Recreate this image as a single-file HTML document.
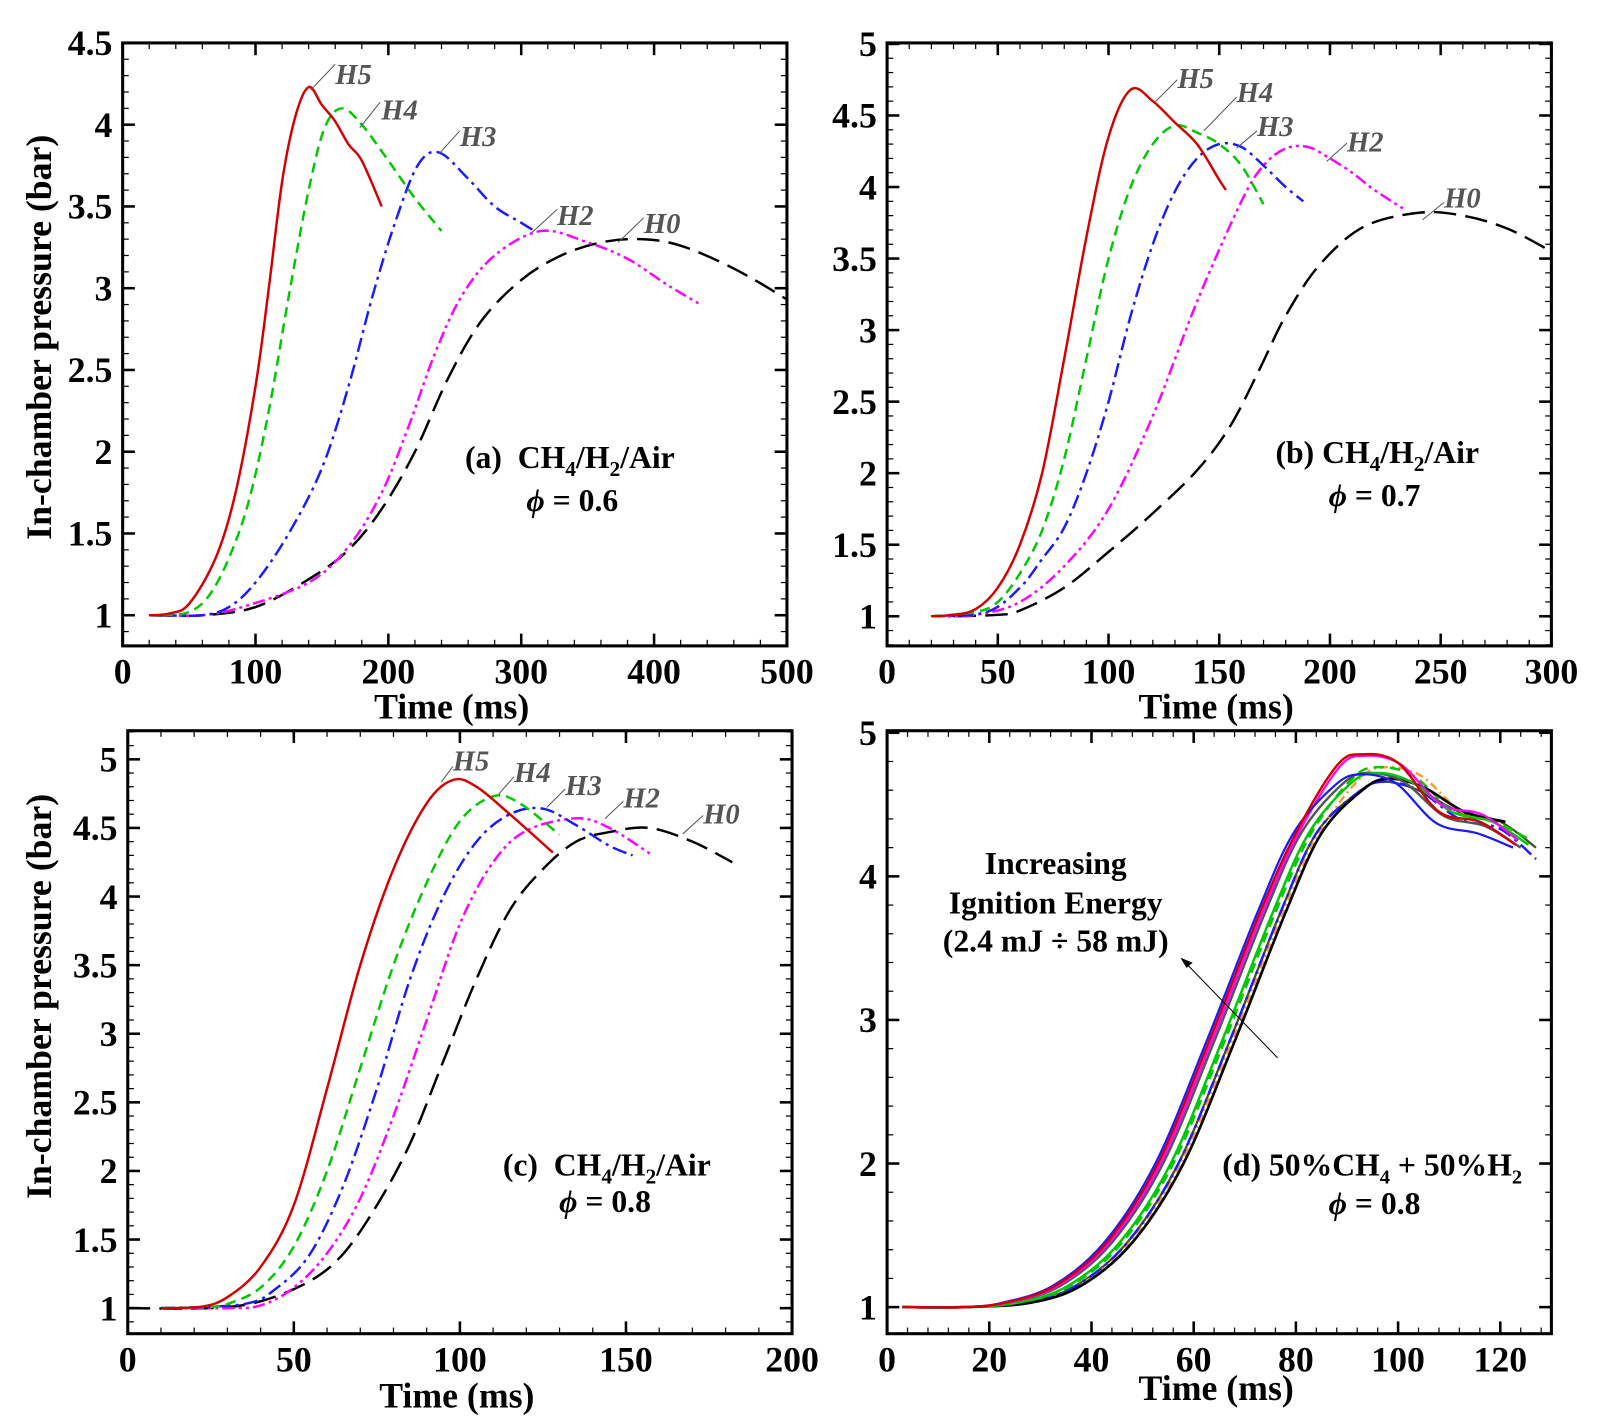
<!DOCTYPE html>
<html><head><meta charset="utf-8"><style>
html,body{margin:0;padding:0;background:#fff;}
svg{display:block;}
text{font-family:"Liberation Serif",serif;font-weight:bold;fill:#000;}
.tl{font-size:35px;}
.at{font-size:35px;}
.hl{font-size:28px;font-style:italic;fill:#555;}
.ann{font-size:31px;}
</style></head><body>
<svg id="s" width="1598" height="1427" viewBox="0 0 1563.6 1396.3" xmlns="http://www.w3.org/2000/svg">
<g id="g"></g>
<text class="at" transform="translate(50,330) rotate(-90)" text-anchor="middle">In-chamber pressure (bar)</text>
<text class="at" transform="translate(50,975) rotate(-90)" text-anchor="middle">In-chamber pressure (bar)</text>
<text class="at" x="442" y="703" text-anchor="middle">Time (ms)</text>
<text class="at" x="1190" y="703" text-anchor="middle">Time (ms)</text>
<text class="at" x="447" y="1377" text-anchor="middle">Time (ms)</text>
<text class="at" x="1190" y="1370" text-anchor="middle">Time (ms)</text>
<text class="ann" x="455" y="458">(a)&#160; CH<tspan font-size="21" dy="8">4</tspan><tspan dy="-8">/H</tspan><tspan font-size="21" dy="8">2</tspan><tspan dy="-8">/Air</tspan></text>
<text class="ann" x="560" y="500" text-anchor="middle"><tspan font-style="italic">ϕ</tspan> = 0.6</text>
<text class="ann" x="1248" y="453">(b) CH<tspan font-size="21" dy="8">4</tspan><tspan dy="-8">/H</tspan><tspan font-size="21" dy="8">2</tspan><tspan dy="-8">/Air</tspan></text>
<text class="ann" x="1345" y="495" text-anchor="middle"><tspan font-style="italic">ϕ</tspan> = 0.7</text>
<text class="ann" x="492" y="1150">(c)&#160; CH<tspan font-size="21" dy="8">4</tspan><tspan dy="-8">/H</tspan><tspan font-size="21" dy="8">2</tspan><tspan dy="-8">/Air</tspan></text>
<text class="ann" x="592" y="1186" text-anchor="middle"><tspan font-style="italic">ϕ</tspan> = 0.8</text>
<text class="ann" x="1196" y="1150" font-size="29">(d) 50%CH<tspan font-size="20" dy="8">4</tspan><tspan dy="-8"> + 50%H</tspan><tspan font-size="20" dy="8">2</tspan></text>
<text class="ann" x="1345" y="1188" text-anchor="middle"><tspan font-style="italic">ϕ</tspan> = 0.8</text>
<text class="ann" x="1033" y="855" text-anchor="middle" font-size="29">Increasing</text>
<text class="ann" x="1033" y="894" text-anchor="middle" font-size="29">Ignition Energy</text>
<text class="ann" x="1033" y="931" text-anchor="middle" font-size="29">(2.4 mJ ÷ 58 mJ)</text>
<line x1="1250" y1="1035" x2="1160" y2="942" stroke="#000" stroke-width="1"/>
<polygon points="1155,937 1167,942 1161,947" fill="#000"/>
<text class="hl" x="328" y="82">H5</text><text class="hl" x="373" y="117">H4</text><text class="hl" x="450" y="143">H3</text><text class="hl" x="545" y="220">H2</text><text class="hl" x="630" y="228">H0</text>
<text class="hl" x="1152" y="86">H5</text><text class="hl" x="1210" y="100">H4</text><text class="hl" x="1230" y="133">H3</text><text class="hl" x="1318" y="148">H2</text><text class="hl" x="1413" y="203">H0</text>
<text class="hl" x="443" y="754">H5</text><text class="hl" x="503" y="765">H4</text><text class="hl" x="553" y="778">H3</text><text class="hl" x="610" y="790">H2</text><text class="hl" x="688" y="806">H0</text>
<g stroke="#555" stroke-width="1">
<line x1="304" y1="88" x2="328" y2="63"/><line x1="352" y1="125" x2="372" y2="100"/><line x1="430" y1="150" x2="450" y2="128"/><line x1="520" y1="228" x2="545" y2="205"/><line x1="605" y1="237" x2="630" y2="213"/>
<line x1="1130" y1="100" x2="1152" y2="78"/><line x1="1178" y1="128" x2="1210" y2="95"/><line x1="1210" y1="145" x2="1230" y2="128"/><line x1="1298" y1="158" x2="1318" y2="140"/><line x1="1392" y1="215" x2="1413" y2="198"/>
<line x1="432" y1="765" x2="443" y2="750"/><line x1="488" y1="777" x2="503" y2="760"/><line x1="535" y1="790" x2="553" y2="772"/><line x1="592" y1="801" x2="610" y2="784"/><line x1="668" y1="816" x2="688" y2="798"/>
</g>
</svg>
<script>
var NS="http://www.w3.org/2000/svg",G=document.getElementById('g');
function el(n,a,p){var e=document.createElementNS(NS,n);for(var k in a)e.setAttribute(k,a[k]);(p||G).appendChild(e);return e;}
function txt(x,y,s,anc){var e=el('text',{x:x,y:y,'class':'tl','text-anchor':anc});e.textContent=s;}
function path(pts){var d='M'+pts[0][0].toFixed(1)+','+pts[0][1].toFixed(1);
 for(var i=0;i<pts.length-1;i++){var p0=pts[i-1]||pts[i],p1=pts[i],p2=pts[i+1],p3=pts[i+2]||p2;
 var c1=[p1[0]+(p2[0]-p0[0])/6,p1[1]+(p2[1]-p0[1])/6],c2=[p2[0]-(p3[0]-p1[0])/6,p2[1]-(p3[1]-p1[1])/6];
 d+=' C'+c1[0].toFixed(1)+','+c1[1].toFixed(1)+' '+c2[0].toFixed(1)+','+c2[1].toFixed(1)+' '+p2[0].toFixed(1)+','+p2[1].toFixed(1);}
 return d;}
function panel(P){
 var X=function(t){return P.x0+P.sx*t},Y=function(v){return P.y1-(v-1)*P.sy};
 var cp=el('clipPath',{id:P.id});el('rect',{x:P.L,y:P.T,width:P.R-P.L,height:P.B-P.T},cp);
 P.curves.forEach(function(c){var pts=c.d.map(function(q){return [X(q[0]),Y(q[1])]});
  var a={d:path(pts),fill:'none',stroke:c.c,'stroke-width':c.w||2.4,'clip-path':'url(#'+P.id+')'};if(c.da)a['stroke-dasharray']=c.da;el('path',a);});
 el('rect',{x:P.L,y:P.T,width:P.R-P.L,height:P.B-P.T,fill:'none',stroke:'#000','stroke-width':3});
 var t;
 for(t=0;t<=P.xmax+1e-6;t+=P.xmin){var x=X(t);if(x>P.R+0.5)break;var maj=Math.abs(t/P.xmaj-Math.round(t/P.xmaj))<1e-6;var l=maj?12:6;
  el('line',{x1:x,y1:P.B,x2:x,y2:P.B-l,stroke:'#000','stroke-width':maj?2.5:1.2});el('line',{x1:x,y1:P.T,x2:x,y2:P.T+l,stroke:'#000','stroke-width':maj?2.5:1.2});
  if(maj&&t<=P.xlab)txt(x,P.B+37,String(Math.round(t)),'middle');}
 for(var v=P.vmin;v<=P.vmax+1e-6;v+=P.ymin){var y=Y(v);if(y<P.T-0.5||y>P.B+0.5)continue;var maj=Math.abs(v/P.ymaj-Math.round(v/P.ymaj))<1e-6;var l=maj?12:6;
  el('line',{x1:P.L,y1:y,x2:P.L+l,y2:y,stroke:'#000','stroke-width':maj?2.5:1.2});el('line',{x1:P.R,y1:y,x2:P.R-l,y2:y,stroke:'#000','stroke-width':maj?2.5:1.2});
  if(maj)txt(P.L-10,y+12,String(Math.round(v*10)/10),'end');}
}
var RED='#d40000',GRN='#00c800',BLU='#1a1aff',MAG='#ff00ff',BLK='#000';
var DG='10,6',DB='14,5,3,5',DM='12,4,3,4,3,4',DK='22,9';
panel({id:'ca',L:120,R:770,T:42,B:632,x0:120,sx:1.3,y1:602,sy:160,xmax:500,xmin:20,xmaj:100,xlab:500,vmin:0.8,vmax:4.5,ymin:0.1,ymaj:0.5,curves:[
 {c:BLK,da:DK,d:[[20,1],[60,1],[100,1.05],[140,1.22],[170,1.4],[195,1.65],[220,2.0],[245,2.45],[270,2.8],[300,3.05],[330,3.2],[360,3.28],[390,3.3],[420,3.26],[460,3.12],[500,2.93],[520,2.8]]},
 {c:MAG,da:DM,d:[[30,1],[60,1],[90,1.05],[140,1.2],[170,1.42],[195,1.75],[215,2.15],[235,2.6],[255,2.95],[280,3.2],[315,3.35],[350,3.28],[380,3.18],[410,3.02],[435,2.9]]},
 {c:BLU,da:DB,d:[[30,1],[60,1],[80,1.05],[100,1.2],[125,1.5],[150,1.9],[170,2.4],[188,2.95],[205,3.4],[222,3.75],[238,3.83],[260,3.67],[280,3.5],[300,3.4],[310,3.35]]},
 {c:GRN,da:DG,d:[[30,1],[50,1.02],[65,1.12],[80,1.35],[95,1.7],[110,2.25],[125,2.95],[140,3.6],[152,3.98],[165,4.1],[180,4.0],[200,3.78],[220,3.55],[240,3.35]]},
 {c:RED,d:[[20,1],[35,1.01],[50,1.07],[70,1.35],[85,1.75],[100,2.4],[110,3.0],[120,3.65],[130,4.05],[140,4.23],[150,4.12],[160,4.02],[170,3.88],[180,3.78],[195,3.5]]}]});
panel({id:'cb',L:868,R:1518,T:42,B:632,x0:868,sx:2.1667,y1:603,sy:140,xmax:300,xmin:10,xmaj:50,xlab:300,vmin:0.8,vmax:5,ymin:0.1,ymaj:0.5,curves:[
 {c:BLK,da:DK,d:[[30,1],[50,1.01],[60,1.04],[80,1.2],[100,1.45],[120,1.72],[140,2.02],[155,2.33],[168,2.72],[180,3.1],[195,3.45],[215,3.72],[240,3.82],[260,3.8],[280,3.71],[300,3.55]]},
 {c:MAG,da:DM,d:[[20,1],[40,1.01],[60,1.1],[80,1.35],[100,1.75],[120,2.4],[140,3.2],[160,3.9],[170,4.15],[180,4.27],[190,4.28],[200,4.2],[210,4.1],[220,3.98],[233,3.85]]},
 {c:BLU,da:DB,d:[[20,1],[45,1.03],[60,1.2],[70,1.4],[80,1.62],[90,2],[100,2.5],[110,3.1],[120,3.6],[130,3.97],[140,4.2],[150,4.3],[160,4.28],[170,4.15],[180,4.0],[188,3.9]]},
 {c:GRN,da:DG,d:[[20,1],[40,1.03],[50,1.1],[60,1.3],[70,1.6],[80,2.1],[90,2.8],[100,3.5],[110,4.0],[120,4.3],[130,4.43],[140,4.38],[150,4.3],[160,4.15],[170,3.88]]},
 {c:RED,d:[[20,1],[30,1.01],[40,1.05],[50,1.2],[60,1.5],[70,2.0],[80,2.8],[90,3.65],[100,4.35],[110,4.68],[120,4.6],[130,4.45],[140,4.3],[150,4.05],[153,3.98]]}]});
panel({id:'cc',L:125,R:775,T:715,B:1305,x0:125,sx:3.25,y1:1280,sy:134.25,xmax:200,xmin:10,xmaj:50,xlab:200,vmin:0.8,vmax:5.2,ymin:0.1,ymaj:0.5,curves:[
 {c:BLK,da:DK,d:[[0,1],[25,1],[40,1.05],[55,1.2],[65,1.4],[75,1.75],[85,2.2],[95,2.8],[105,3.4],[115,3.9],[125,4.2],[135,4.4],[145,4.47],[157,4.5],[170,4.4],[182,4.25]]},
 {c:MAG,da:DM,d:[[10,1],[30,1],[40,1.02],[50,1.15],[60,1.4],[70,1.8],[80,2.4],[90,3.1],[100,3.8],[110,4.25],[120,4.48],[135,4.57],[145,4.5],[158,4.3]]},
 {c:BLU,da:DB,d:[[10,1],[35,1.03],[45,1.15],[55,1.4],[65,1.9],[75,2.6],[85,3.4],[95,4.0],[105,4.4],[115,4.6],[125,4.64],[135,4.52],[145,4.37],[152,4.3]]},
 {c:GRN,da:DG,d:[[10,1],[25,1.01],[30,1.03],[40,1.15],[50,1.45],[60,2.0],[70,2.75],[80,3.5],[90,4.1],[100,4.55],[110,4.73],[118,4.68],[130,4.45]]},
 {c:RED,d:[[10,1],[22,1.01],[30,1.08],[40,1.3],[50,1.75],[60,2.6],[70,3.5],[80,4.2],[90,4.68],[98,4.85],[105,4.8],[115,4.6],[128,4.32]]}]});
function dcur(s,pk,end,dip){var b=[[3,1],[15,1],[25,1.03],[35,1.15],[45,1.45],[55,2.0],[65,2.85],[75,3.75],[82,4.3],[90,pk-0.08],[95,pk],[102,pk-0.06],[110,4.45-dip],[118,4.38-dip],[125,end]];
 return b.map(function(q,i){return [i<2?q[0]:q[0]+s,q[1]]}).filter(function(q){return q[0]<=127});}
panel({id:'cd',L:868,R:1518,T:715,B:1305,x0:868,sx:5,y1:1279,sy:140.5,xmax:130,xmin:4,xmaj:20,xlab:120,vmin:0.8,vmax:5,ymin:0.2,ymaj:1,curves:[
 {c:'#4a4a1a',w:2.2,d:dcur(2,4.66,4.2,0)},
 {c:'#ff9933',da:'8,4,2,4',d:dcur(2.5,4.76,4.22,0)},
 {c:BLU,da:DB,d:dcur(2,4.66,4.12,0.05)},
 {c:GRN,da:DG,d:dcur(1,4.76,4.25,0)},
 {c:BLK,w:2.6,d:dcur(3,4.68,4.22,0)},
 {c:'#555',w:2.4,d:dcur(-1,4.72,4.2,0.03)},
 {c:GRN,w:2.4,d:dcur(0.5,4.72,4.22,0)},
 {c:MAG,w:2.2,d:dcur(-1.5,4.84,4.25,-0.05)},
 {c:BLU,w:2.2,d:dcur(-2.5,4.71,4.2,0.08)},
 {c:RED,w:2.4,d:dcur(-2,4.85,4.22,0)}]});
</script>
</body></html>
